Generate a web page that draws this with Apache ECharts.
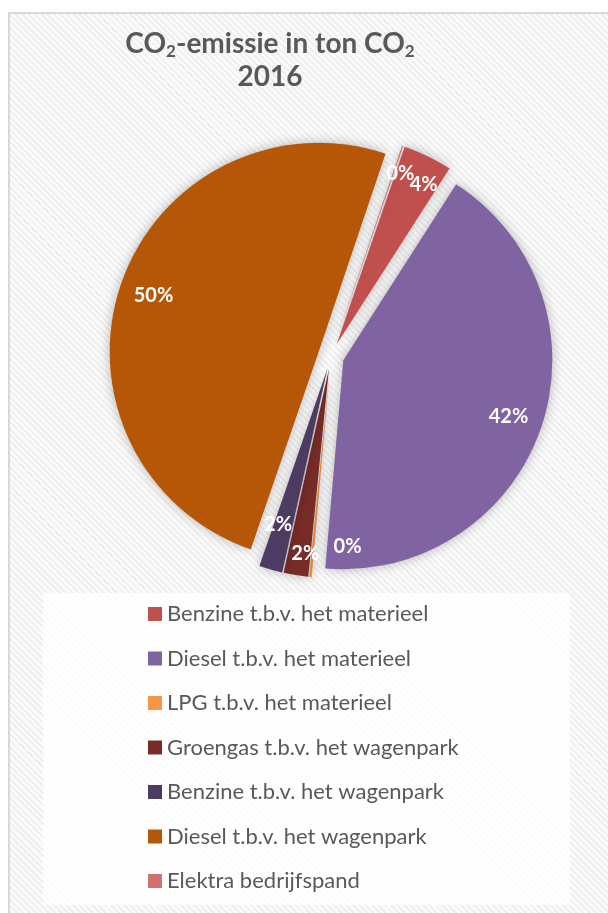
<!DOCTYPE html>
<html>
<head>
<meta charset="utf-8">
<script src="https://cdn.jsdelivr.net/npm/echarts@6/dist/echarts.min.js"></script>
<style>
  html, body { margin: 0; padding: 0; background: #fff; }
  /* striped chart frame, like the Excel chart area */
  #frame {
    position: absolute; left: 8px; top: 12px; width: 620px; height: 920px;
    border: 2px solid #d9d9d9; box-sizing: border-box;
    background: repeating-linear-gradient(45deg, #fbfbfb 0px, #fbfbfb 2.5px, #efefef 2.5px, #efefef 4.5px);
  }
  #chart { position: absolute; left: 0; top: 0; width: 608px; height: 913px; }
</style>
</head>
<body>
<div id="frame"></div>
<div id="chart"></div>
<script>
  // CO2 emission share per source, 2016 (percent)
  const categories = [
    "Benzine t.b.v. het materieel",
    "Diesel t.b.v. het materieel",
    "LPG t.b.v. het materieel",
    "Groengas t.b.v. het wagenpark",
    "Benzine t.b.v. het wagenpark",
    "Diesel t.b.v. het wagenpark",
    "Elektra bedrijfspand"
  ];
  const shares = [3.8, 42.3, 0.2, 1.9, 1.8, 49.9, 0.1];
  const colors = ["#C0504D", "#8064A2", "#F79646", "#772C2A", "#4D3B62", "#B65708", "#D0726F"];

  const CENTER = [331, 356];
  const R = 209;
  const START = 71;      // first slice starts ~19deg right of 12 o'clock
  const EXPLODE = 13;

  // "best fit" nudges for the crowded small-slice labels (px)
  const LABEL_NUDGE = {
    0: [11, -3],   // 4%
    2: [34, 4],    // LPG 0%
    3: [4, 12],    // Groengas 2%
    4: [-2, -12],  // Benzine wagenpark 2%
    6: [9, -5]     // Elektra 0%
  };

  const chart = echarts.init(document.getElementById("chart"), null, { renderer: "canvas" });

  const pieData = categories.map((name, i) => ({
    name: name,
    value: shares[i],
    selected: true,
    itemStyle: { color: colors[i] }
  }));

  // label-only ring so the percentages sit near the rim like Excel's
  const labelData = categories.map((name, i) => ({ name: name, value: shares[i], selected: true }));

  const option = {
    animation: false,
    backgroundColor: "rgba(0,0,0,0)",
    title: {
      text: "{t|CO}{s|2}{t|-emissie in ton CO}{s|2}\n{t|2016}",
      left: 265,
      top: 22,
      textAlign: "center",
      textStyle: {
        rich: {
          t: { fontFamily: "Lato", fontWeight: "bold", fontSize: 28, color: "#595959", lineHeight: 33, align: "center" },
          s: { fontFamily: "Lato", fontWeight: "bold", fontSize: 17, color: "#595959", verticalAlign: "bottom", padding: [12, 0, 0, 0] }
        }
      }
    },
    legend: {
      orient: "vertical",
      left: 143,
      top: 597,
      data: categories,
      icon: "rect",
      itemWidth: 14,
      itemHeight: 14,
      itemGap: 20.5,
      selectedMode: false,
      textStyle: { fontFamily: "Lato", fontSize: 22, color: "#595959", lineHeight: 24 }
    },
    graphic: [{
      type: "rect",
      silent: true,
      z: -1,
      shape: { x: 43, y: 593, width: 527, height: 312 },
      style: { fill: "rgba(255,255,255,0.82)" }
    }],
    series: [
      {
        name: "CO2",
        type: "pie",
        center: CENTER,
        radius: [0, R],
        startAngle: START,
        clockwise: true,
        selectedMode: "multiple",
        selectedOffset: EXPLODE,
        silent: true,
        label: { show: false },
        labelLine: { show: false },
        itemStyle: { shadowBlur: 12, shadowColor: "rgba(0,0,0,0.28)" },
        select: { itemStyle: { shadowBlur: 12, shadowColor: "rgba(0,0,0,0.28)" } },
        data: pieData
      },
      {
        name: "labels",
        type: "pie",
        center: CENTER,
        radius: [134, R],
        startAngle: START,
        clockwise: true,
        selectedMode: "multiple",
        selectedOffset: EXPLODE,
        silent: true,
        minShowLabelAngle: 0,
        itemStyle: { color: "rgba(0,0,0,0)" },
        select: { itemStyle: { color: "rgba(0,0,0,0)" } },
        labelLine: { show: false },
        label: {
          show: true,
          position: "inside",
          formatter: p => Math.round(p.value) + "%",
          fontFamily: "Lato",
          fontWeight: "bold",
          fontSize: 20,
          color: "#fff"
        },
        labelLayout: p => {
          const n = LABEL_NUDGE[p.dataIndex];
          return n ? { dx: n[0], dy: n[1], hideOverlap: false } : { hideOverlap: false };
        },
        data: labelData
      }
    ]
  };

  chart.setOption(option);
</script>
</body>
</html>
